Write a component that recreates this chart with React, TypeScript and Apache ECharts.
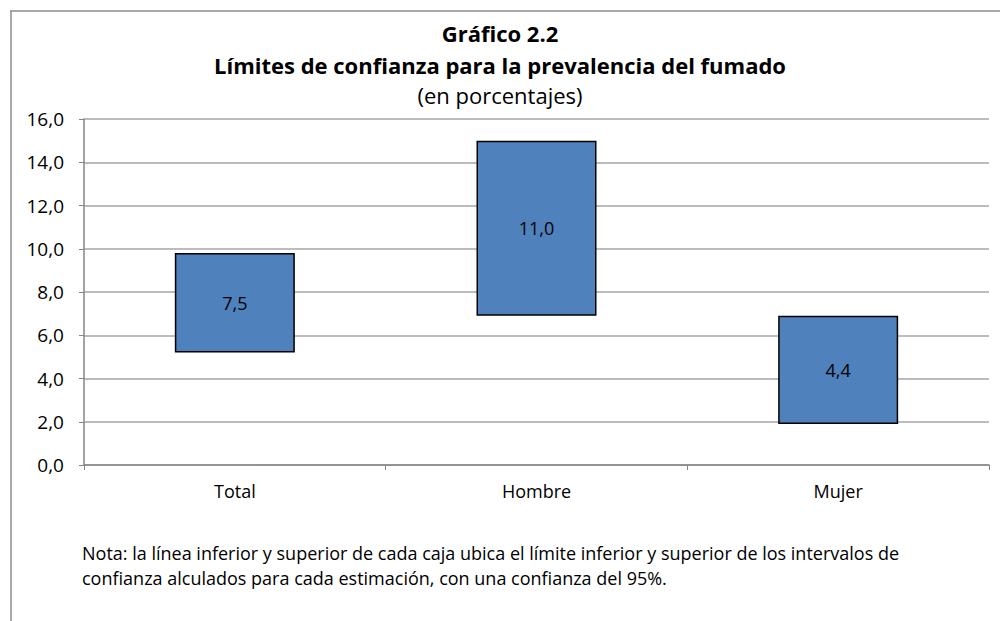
import React, { useEffect, useRef } from "react";
import * as echarts from "echarts";

const categories = ["Total", "Hombre", "Mujer"];
const lowerLimit = [5.2, 6.9, 1.9];
const upperLimit = [9.8, 15.0, 6.9];
const estimate = [7.5, 11.0, 4.4];
const yTicks = { min: 0, max: 16, interval: 2 };

const titleMain = "Gráfico 2.2";
const titleSub = "Límites de confianza para la prevalencia del fumado";
const titleUnit = "(en porcentajes)";
const noteLines = [
  "Nota: la línea inferior y superior de cada caja ubica el límite inferior y superior de los intervalos de",
  "confianza alculados para cada estimación, con una confianza del 95%.",
];

const FONT = "'Open Sans', 'Noto Sans', sans-serif";
const fmt = (v: number) => v.toFixed(1).replace(".", ",");

export default function App() {
  const ref = useRef<HTMLDivElement>(null);
  useEffect(() => {
    if (!ref.current) return;
    const chart = echarts.init(ref.current, undefined, { renderer: "svg" });
    const heights = upperLimit.map((u, i) => +(u - lowerLimit[i]).toFixed(2));
    chart.setOption({
      animation: false,
      backgroundColor: "#ffffff",
      textStyle: { fontFamily: FONT },
      title: [
        {
          text: titleMain,
          left: "center",
          top: 17,
          textStyle: { fontFamily: FONT, fontSize: 22, fontWeight: "bold", color: "#000" },
        },
        {
          text: titleSub,
          left: "center",
          top: 49,
          textStyle: { fontFamily: FONT, fontSize: 22, fontWeight: "bold", color: "#000" },
        },
        {
          text: titleUnit,
          left: "center",
          top: 79,
          textStyle: { fontFamily: FONT, fontSize: 22, fontWeight: "normal", color: "#000" },
        },
      ],
      grid: { left: 84, right: 11, top: 119, bottom: 156, containLabel: false },
      xAxis: {
        type: "category",
        data: categories,
        boundaryGap: true,
        axisLine: { show: true, lineStyle: { color: "#868686", width: 1.5 } },
        axisTick: { show: true, interval: 0, length: 5, lineStyle: { color: "#868686" } },
        axisLabel: { color: "#000", fontSize: 18, margin: 17, fontFamily: FONT },
      },
      yAxis: {
        type: "value",
        min: yTicks.min,
        max: yTicks.max,
        interval: yTicks.interval,
        axisLine: { show: true, lineStyle: { color: "#868686", width: 1.5 } },
        axisTick: { show: true, length: 5, lineStyle: { color: "#868686" } },
        axisLabel: { color: "#000", fontSize: 19, margin: 20, formatter: (v: number) => fmt(v), fontFamily: FONT },
        splitLine: { show: true, lineStyle: { color: "#a6a6a6", width: 1.5 } },
      },
      series: [
        {
          type: "bar",
          stack: "ci",
          data: lowerLimit,
          barWidth: 120,
          itemStyle: { color: "transparent" },
          silent: true,
        },
        {
          type: "bar",
          stack: "ci",
          data: heights,
          barWidth: 120,
          itemStyle: { color: "#4F81BD", borderColor: "#000", borderWidth: 1.5 },
          label: {
            show: true,
            position: "inside",
            color: "#000",
            fontSize: 18,
            fontFamily: FONT,
            formatter: (p: any) => fmt(estimate[p.dataIndex]),
          },
        },
      ],
      graphic: [
        { type: "line", shape: { x1: 10, y1: 11, x2: 1000, y2: 11 }, style: { stroke: "#8c8c8c", lineWidth: 1.5 } },
        { type: "line", shape: { x1: 11, y1: 11, x2: 11, y2: 621 }, style: { stroke: "#8c8c8c", lineWidth: 1.5 } },
        {
          type: "text",
          left: 82,
          top: 540,
          style: {
            text: noteLines.join("\n"),
            fontSize: 18,
            lineHeight: 25,
            fontFamily: FONT,
            fill: "#000",
          },
        },
      ],
    });
    return () => chart.dispose();
  }, []);
  return (
    <div
      ref={ref}
      style={{ position: "absolute", left: 0, top: 0, width: 1000, height: 621 }}
    />
  );
}
